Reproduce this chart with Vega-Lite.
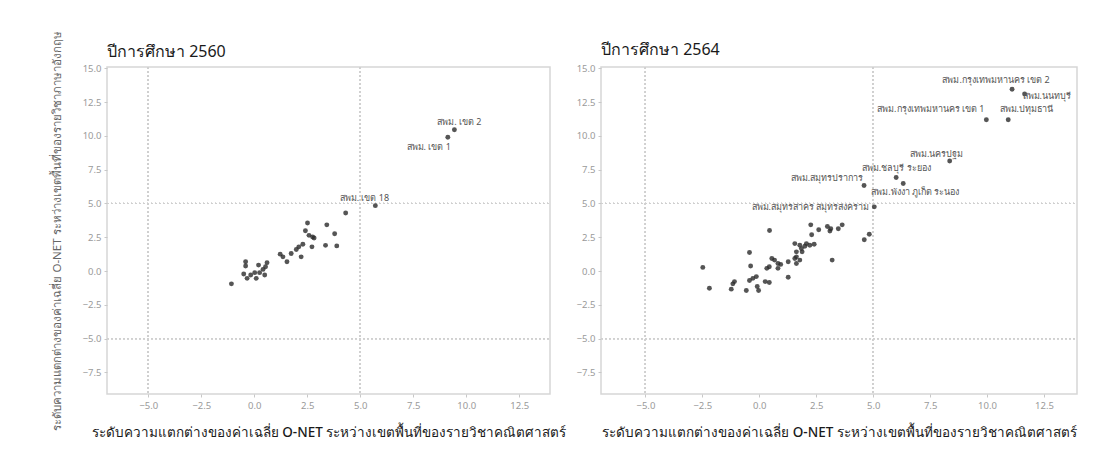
{
  "$schema": "https://vega.github.io/schema/vega-lite/v6.json",
  "background": "white",
  "padding": {"left": 50, "top": 30, "right": 5, "bottom": 5},
  "spacing": 51,
  "bounds": "flush",
  "config": {
    "font": "Noto Sans",
    "view": {"stroke": "#d6d6d6", "strokeWidth": 1.5},
    "axis": {
      "grid": false, "domain": false, "ticks": true, "tickSize": 3, "tickColor": "#c8c8c8",
      "labelColor": "#9a9a9a", "labelFontSize": 9.5, "labelPadding": 3
    },
    "title": {"anchor": "start", "frame": "group", "fontSize": 16, "fontWeight": "normal", "color": "#1a1a1a", "offset": 5}
  },
  "datasets": {
    "d2560": [
      {"x": 9.44, "y": 10.46, "label": "สพม. เขต 2"},
      {"x": 9.13, "y": 9.9, "label": "สพม. เขต 1"},
      {"x": 5.71, "y": 4.84, "label": "สพม. เขต 18"},
      {"x": 4.31, "y": 4.3, "label": ""},
      {"x": 2.51, "y": 3.55, "label": ""},
      {"x": 3.42, "y": 3.42, "label": ""},
      {"x": 2.41, "y": 2.98, "label": ""},
      {"x": 2.58, "y": 2.64, "label": ""},
      {"x": 2.75, "y": 2.52, "label": ""},
      {"x": 2.82, "y": 2.45, "label": ""},
      {"x": 3.79, "y": 2.76, "label": ""},
      {"x": 3.89, "y": 1.86, "label": ""},
      {"x": 2.72, "y": 1.79, "label": ""},
      {"x": 2.29, "y": 1.98, "label": ""},
      {"x": 2.1, "y": 1.79, "label": ""},
      {"x": 1.98, "y": 1.59, "label": ""},
      {"x": 2.21, "y": 1.05, "label": ""},
      {"x": 1.74, "y": 1.3, "label": ""},
      {"x": 1.22, "y": 1.25, "label": ""},
      {"x": 1.35, "y": 1.05, "label": ""},
      {"x": 1.54, "y": 0.69, "label": ""},
      {"x": 0.6, "y": 0.62, "label": ""},
      {"x": 0.53, "y": 0.32, "label": ""},
      {"x": 0.41, "y": 0.12, "label": ""},
      {"x": 0.2, "y": 0.44, "label": ""},
      {"x": -0.41, "y": 0.69, "label": ""},
      {"x": -0.41, "y": 0.37, "label": ""},
      {"x": -0.5, "y": -0.22, "label": ""},
      {"x": -0.34, "y": -0.54, "label": ""},
      {"x": -0.17, "y": -0.29, "label": ""},
      {"x": 0.02, "y": -0.12, "label": ""},
      {"x": 0.09, "y": -0.54, "label": ""},
      {"x": 0.25, "y": -0.12, "label": ""},
      {"x": 0.49, "y": -0.29, "label": ""},
      {"x": -1.08, "y": -0.95, "label": ""},
      {"x": 3.36, "y": 1.9, "label": ""}
    ],
    "d2564": [
      {"x": 11.1, "y": 13.45, "label": "สพม.กรุงเทพมหานคร เขต 2"},
      {"x": 11.65, "y": 13.1, "label": "สพม.นนทบุรี"},
      {"x": 9.97, "y": 11.2, "label": "สพม.กรุงเทพมหานคร เขต 1"},
      {"x": 10.93, "y": 11.2, "label": "สพม.ปทุมธานี"},
      {"x": 8.36, "y": 8.14, "label": "สพม.นครปฐม"},
      {"x": 6.01, "y": 6.92, "label": "สพม.ชลบุรี ระยอง"},
      {"x": 6.32, "y": 6.48, "label": "สพม.พังงา ภูเก็ต ระนอง"},
      {"x": 4.6, "y": 6.33, "label": "สพม.สมุทรปราการ"},
      {"x": 5.05, "y": 4.75, "label": "สพม.สมุทรสาคร สมุทรสงคราม"},
      {"x": 0.45, "y": 3.0, "label": ""},
      {"x": 2.26, "y": 3.42, "label": ""},
      {"x": 2.61, "y": 3.06, "label": ""},
      {"x": 2.3, "y": 2.68, "label": ""},
      {"x": 2.99, "y": 3.3, "label": ""},
      {"x": 3.14, "y": 3.13, "label": ""},
      {"x": 3.1, "y": 2.96, "label": ""},
      {"x": 3.47, "y": 3.13, "label": ""},
      {"x": 3.64, "y": 3.42, "label": ""},
      {"x": 4.61, "y": 2.32, "label": ""},
      {"x": 4.83, "y": 2.72, "label": ""},
      {"x": 1.56, "y": 2.03, "label": ""},
      {"x": 1.78, "y": 1.91, "label": ""},
      {"x": 2.0, "y": 1.83, "label": ""},
      {"x": 2.07, "y": 2.03, "label": ""},
      {"x": 2.22, "y": 1.91, "label": ""},
      {"x": 2.41, "y": 1.98, "label": ""},
      {"x": 1.63, "y": 1.42, "label": ""},
      {"x": 1.85, "y": 1.66, "label": ""},
      {"x": 1.88, "y": 1.42, "label": ""},
      {"x": 1.56, "y": 0.93, "label": ""},
      {"x": 1.78, "y": 0.81, "label": ""},
      {"x": 3.2, "y": 0.81, "label": ""},
      {"x": 1.27, "y": 0.69, "label": ""},
      {"x": -0.43, "y": 1.37, "label": ""},
      {"x": -0.38, "y": 0.37, "label": ""},
      {"x": -2.48, "y": 0.27, "label": ""},
      {"x": -2.19, "y": -1.27, "label": ""},
      {"x": -1.09, "y": -0.78, "label": ""},
      {"x": -1.16, "y": -0.95, "label": ""},
      {"x": -1.23, "y": -1.34, "label": ""},
      {"x": -0.43, "y": -0.7, "label": ""},
      {"x": -0.28, "y": -0.54, "label": ""},
      {"x": -0.13, "y": -0.41, "label": ""},
      {"x": -0.57, "y": -1.44, "label": ""},
      {"x": -0.09, "y": -1.14, "label": ""},
      {"x": -0.03, "y": -1.44, "label": ""},
      {"x": 0.26, "y": -0.78, "label": ""},
      {"x": 0.44, "y": -0.85, "label": ""},
      {"x": 0.33, "y": 0.2, "label": ""},
      {"x": 0.44, "y": 0.32, "label": ""},
      {"x": 0.55, "y": 0.93, "label": ""},
      {"x": 0.67, "y": 0.81, "label": ""},
      {"x": 0.82, "y": 0.56, "label": ""},
      {"x": 0.94, "y": 0.49, "label": ""},
      {"x": 0.82, "y": 0.2, "label": ""},
      {"x": 1.27, "y": -0.46, "label": ""},
      {"x": 1.63, "y": 1.05, "label": ""},
      {"x": 1.63, "y": 0.56, "label": ""}
    ]
  },
  "hconcat": [
    {
      "title": {"text": "ปีการศึกษา 2560", "offset": -29},
      "width": 443,
      "height": 327,
      "data": {"name": "d2560"},
      "encoding": {
        "x": {"field": "x", "type": "quantitative",
          "scale": {"domain": [-6.95, 13.95], "nice": false, "zero": false},
          "axis": {"values": [-5, -2.5, 0, 2.5, 5, 7.5, 10, 12.5], "format": ".1f",
            "title": "ระดับความแตกต่างของค่าเฉลี่ย O-NET ระหว่างเขตพื้นที่ของรายวิชาคณิตศาสตร์",
            "titleFontSize": 13.5, "titleFontWeight": 500, "titleColor": "#1a1a1a", "titlePadding": 16}},
        "y": {"field": "y", "type": "quantitative",
          "scale": {"domain": [-9.1, 15.1], "nice": false, "zero": false},
          "axis": {"values": [-7.5, -5, -2.5, 0, 2.5, 5, 7.5, 10, 12.5, 15], "format": ".1f",
            "title": "ระดับความแตกต่างของค่าเฉลี่ย O-NET ระหว่างเขตพื้นที่ของรายวิชาภาษาอังกฤษ",
            "titleFontSize": 11.5, "titleFontWeight": "normal", "titleColor": "#666666", "titlePadding": 20}}
      },
      "layer": [
        {"mark": {"type": "rule", "color": "#d0d0d0", "strokeDash": [1.5, 2.5], "strokeWidth": 1}, "encoding": {"x": {"datum": -5}, "y": {"value": 0}, "y2": {"value": 327}}},
        {"mark": {"type": "rule", "color": "#d0d0d0", "strokeDash": [1.5, 2.5], "strokeWidth": 1}, "encoding": {"x": {"datum": 5}, "y": {"value": 0}, "y2": {"value": 327}}},
        {"mark": {"type": "rule", "color": "#d0d0d0", "strokeDash": [1.5, 2.5], "strokeWidth": 1}, "encoding": {"y": {"datum": -5}, "x": {"value": 0}, "x2": {"value": 443}}},
        {"mark": {"type": "rule", "color": "#d0d0d0", "strokeDash": [1.5, 2.5], "strokeWidth": 1}, "encoding": {"y": {"datum": 5}, "x": {"value": 0}, "x2": {"value": 443}}},
        {"mark": {"type": "circle", "size": 24, "color": "#2b2b2b", "opacity": 0.8}},
        {"transform": [{"filter": "datum.label == 'สพม. เขต 2'"}], "mark": {"type": "text", "fontSize": 9, "color": "#555555", "align": "center", "dx": 5, "dy": -8}, "encoding": {"text": {"field": "label"}}},
        {"transform": [{"filter": "datum.label == 'สพม. เขต 1'"}], "mark": {"type": "text", "fontSize": 9, "color": "#555555", "align": "right", "dx": 3, "dy": 10}, "encoding": {"text": {"field": "label"}}},
        {"transform": [{"filter": "datum.label == 'สพม. เขต 18'"}], "mark": {"type": "text", "fontSize": 9, "color": "#555555", "align": "center", "dx": -11, "dy": -8}, "encoding": {"text": {"field": "label"}}}
      ]
    },
    {
      "title": {"text": "ปีการศึกษา 2564"},
      "width": 476,
      "height": 327,
      "data": {"name": "d2564"},
      "encoding": {
        "x": {"field": "x", "type": "quantitative",
          "scale": {"domain": [-6.95, 13.95], "nice": false, "zero": false},
          "axis": {"values": [-5, -2.5, 0, 2.5, 5, 7.5, 10, 12.5], "format": ".1f",
            "title": "ระดับความแตกต่างของค่าเฉลี่ย O-NET ระหว่างเขตพื้นที่ของรายวิชาคณิตศาสตร์",
            "titleFontSize": 13.5, "titleFontWeight": 500, "titleColor": "#1a1a1a", "titlePadding": 16}},
        "y": {"field": "y", "type": "quantitative",
          "scale": {"domain": [-9.1, 15.1], "nice": false, "zero": false},
          "axis": {"values": [-7.5, -5, -2.5, 0, 2.5, 5, 7.5, 10, 12.5, 15], "format": ".1f", "title": null}}
      },
      "layer": [
        {"mark": {"type": "rule", "color": "#d0d0d0", "strokeDash": [1.5, 2.5], "strokeWidth": 1}, "encoding": {"x": {"datum": -5}, "y": {"value": 0}, "y2": {"value": 327}}},
        {"mark": {"type": "rule", "color": "#d0d0d0", "strokeDash": [1.5, 2.5], "strokeWidth": 1}, "encoding": {"x": {"datum": 5}, "y": {"value": 0}, "y2": {"value": 327}}},
        {"mark": {"type": "rule", "color": "#d0d0d0", "strokeDash": [1.5, 2.5], "strokeWidth": 1}, "encoding": {"y": {"datum": -5}, "x": {"value": 0}, "x2": {"value": 476}}},
        {"mark": {"type": "rule", "color": "#d0d0d0", "strokeDash": [1.5, 2.5], "strokeWidth": 1}, "encoding": {"y": {"datum": 5}, "x": {"value": 0}, "x2": {"value": 476}}},
        {"mark": {"type": "circle", "size": 24, "color": "#2b2b2b", "opacity": 0.8}},
        {"transform": [{"filter": "datum.label == 'สพม.กรุงเทพมหานคร เขต 2'"}], "mark": {"type": "text", "fontSize": 9, "color": "#555555", "align": "center", "dx": -16, "dy": -9}, "encoding": {"text": {"field": "label"}}},
        {"transform": [{"filter": "datum.label == 'สพม.นนทบุรี'"}], "mark": {"type": "text", "fontSize": 9, "color": "#555555", "align": "left", "dx": -2, "dy": 2}, "encoding": {"text": {"field": "label"}}},
        {"transform": [{"filter": "datum.label == 'สพม.กรุงเทพมหานคร เขต 1'"}], "mark": {"type": "text", "fontSize": 9, "color": "#555555", "align": "right", "dx": -2, "dy": -11}, "encoding": {"text": {"field": "label"}}},
        {"transform": [{"filter": "datum.label == 'สพม.ปทุมธานี'"}], "mark": {"type": "text", "fontSize": 9, "color": "#555555", "align": "center", "dx": 18, "dy": -11}, "encoding": {"text": {"field": "label"}}},
        {"transform": [{"filter": "datum.label == 'สพม.นครปฐม'"}], "mark": {"type": "text", "fontSize": 9, "color": "#555555", "align": "center", "dx": -13, "dy": -7}, "encoding": {"text": {"field": "label"}}},
        {"transform": [{"filter": "datum.label == 'สพม.ชลบุรี ระยอง'"}], "mark": {"type": "text", "fontSize": 9, "color": "#555555", "align": "center", "dx": 0, "dy": -10}, "encoding": {"text": {"field": "label"}}},
        {"transform": [{"filter": "datum.label == 'สพม.พังงา ภูเก็ต ระนอง'"}], "mark": {"type": "text", "fontSize": 9, "color": "#555555", "align": "center", "dx": 12, "dy": 9}, "encoding": {"text": {"field": "label"}}},
        {"transform": [{"filter": "datum.label == 'สพม.สมุทรปราการ'"}], "mark": {"type": "text", "fontSize": 9, "color": "#555555", "align": "right", "dx": -1, "dy": -8}, "encoding": {"text": {"field": "label"}}},
        {"transform": [{"filter": "datum.label == 'สพม.สมุทรสาคร สมุทรสงคราม'"}], "mark": {"type": "text", "fontSize": 9, "color": "#555555", "align": "right", "dx": -5, "dy": 0}, "encoding": {"text": {"field": "label"}}}
      ]
    }
  ]
}
